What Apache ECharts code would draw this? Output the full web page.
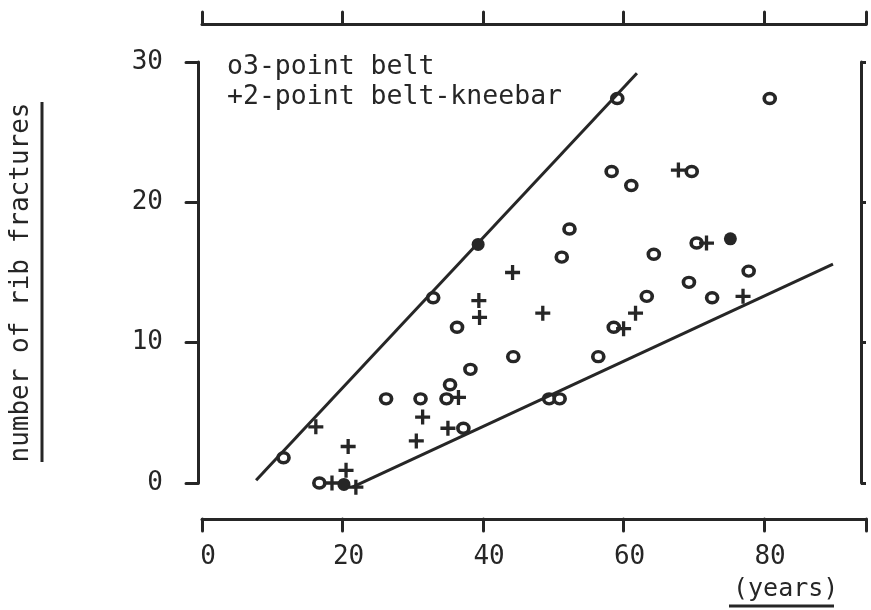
<!DOCTYPE html>
<html>
<head>
<meta charset="utf-8">
<script src="https://cdn.jsdelivr.net/npm/echarts@6/dist/echarts.min.js"></script>
<style>html,body{margin:0;padding:0;background:#fff}#c{width:871px;height:610px}</style>
</head>
<body>
<div id="c"></div>
<script>
// ---- text ----
const legendLines = ['o3-point belt', '+2-point belt-kneebar'];
const yTitle = 'number of rib fractures';
const xUnit = '(years)';
// ---- axes ----
const xMin = 0, xMax = 94.5, xStep = 20;
const yMin = 0, yMax = 30, yStep = 10;
// ---- data: [age (years), number of rib fractures] ----
const belt3Open = [
  [11.6, 1.8], [16.7, 0], [26.2, 6.0], [31.1, 6.0], [32.9, 13.2], [34.8, 6.0],
  [35.3, 7.0], [36.3, 11.1], [37.2, 3.9], [38.2, 8.1], [44.3, 9.0], [49.4, 6.0],
  [50.9, 6.0], [51.2, 16.1], [52.3, 18.1], [56.4, 9.0], [58.3, 22.2], [58.6, 11.1],
  [59.1, 27.4], [61.1, 21.2], [63.3, 13.3], [64.3, 16.3], [69.3, 14.3], [69.7, 22.2],
  [70.4, 17.1], [72.6, 13.2], [77.8, 15.1], [80.8, 27.4]
];
const belt3Solid = [
  [20.2, -0.1], [39.3, 17.0], [75.2, 17.4]
];
const belt2Plus = [
  [16.2, 4.0], [18.5, 0], [20.5, 0.9], [20.8, 2.6], [21.9, -0.3], [30.5, 3.0],
  [31.4, 4.7], [35.0, 3.9], [36.5, 6.1], [39.4, 13.0], [39.5, 11.8], [44.2, 15.0],
  [48.5, 12.1], [60.0, 11.0], [61.7, 12.1], [67.8, 22.3], [71.8, 17.1], [77.0, 13.3]
];
const upperBound = [[7.7, 0.2], [61.9, 29.2]];
const lowerBound = [[21.4, -0.3], [89.8, 15.6]];

const ink = '#262626';
const font = 'DejaVu Sans Mono';
const plusPath = 'path://M3.9,0H6.1V3.9H10V6.1H6.1V10H3.9V6.1H0V3.9H3.9Z';

const chart = echarts.init(document.getElementById('c'), null, {renderer: 'canvas'});
const axisCommon = {
  type: 'value', min: xMin, max: xMax, interval: xStep,
  splitLine: {show: false},
  axisLine: {show: true, onZero: false, lineStyle: {color: ink, width: 3, cap: 'round'}},
  axisTick: {show: true, length: 12, lineStyle: {color: ink, width: 3, cap: 'round'}}
};
chart.setOption({
  animation: false,
  backgroundColor: '#fff',
  title: [
    {text: legendLines.join('\n'), left: 222, top: 47,
     textStyle: {fontFamily: font, fontSize: 26.5, fontWeight: 'normal', color: ink, lineHeight: 30}},
    {text: xUnit, left: 728, top: 572,
     textStyle: {fontFamily: font, fontSize: 25, fontWeight: 'normal', color: ink}}
  ],
  grid: {left: 197, right: 5, top: 62, bottom: 127, containLabel: false},
  xAxis: [
    Object.assign({}, axisCommon, {
      position: 'bottom', offset: 36,
      axisLabel: {show: true, color: ink, fontFamily: font, fontSize: 26, margin: 25,
        padding: [0, 0, 0, 12],
        formatter: v => (v % xStep === 0 ? String(v) : '')}
    }),
    Object.assign({}, axisCommon, {
      position: 'top', offset: 38,
      axisLabel: {show: false}
    })
  ],
  yAxis: [
    {type: 'value', min: yMin, max: yMax, interval: yStep, position: 'left', offset: 4,
     splitLine: {show: false},
     axisLine: {show: true, onZero: false, lineStyle: {color: ink, width: 3, cap: 'round'}},
     axisTick: {show: true, length: 12, lineStyle: {color: ink, width: 3, cap: 'round'}},
     axisLabel: {color: ink, fontFamily: font, fontSize: 26, margin: 35},
     name: yTitle, nameLocation: 'middle', nameGap: 164, nameRotate: 90,
     nameTextStyle: {fontFamily: font, fontSize: 26, color: ink, padding: [0, 20, 0, 0]}},
    {type: 'value', min: yMin, max: yMax, interval: yStep, position: 'right', offset: -5,
     splitLine: {show: false},
     axisLine: {show: true, onZero: false, lineStyle: {color: ink, width: 3}},
     axisTick: {show: true, length: 5, lineStyle: {color: ink, width: 3}},
     axisLabel: {show: false}}
  ],
  graphic: [
    {type: 'line', shape: {x1: 42, y1: 102, x2: 42, y2: 462}, style: {stroke: ink, lineWidth: 3}},
    {type: 'line', shape: {x1: 729, y1: 606, x2: 834, y2: 606}, style: {stroke: ink, lineWidth: 3}}
  ],
  series: [
    {type: 'line', data: upperBound, showSymbol: false, clip: false, silent: true,
     lineStyle: {color: ink, width: 3}},
    {type: 'line', data: lowerBound, showSymbol: false, clip: false, silent: true,
     lineStyle: {color: ink, width: 3}},
    {name: '3-point belt', type: 'scatter', data: belt3Open, clip: false,
     symbol: 'circle', symbolSize: [11, 10],
     itemStyle: {color: '#fff', borderColor: ink, borderWidth: 3.5, opacity: 1}},
    {name: '3-point belt', type: 'scatter', data: belt3Solid, clip: false,
     symbol: 'circle', symbolSize: 13, itemStyle: {color: ink, opacity: 1}},
    {name: '2-point belt-kneebar', type: 'scatter', data: belt2Plus, clip: false,
     symbol: plusPath, symbolSize: 15, itemStyle: {color: ink, opacity: 1}}
  ]
});
</script>
</body>
</html>
